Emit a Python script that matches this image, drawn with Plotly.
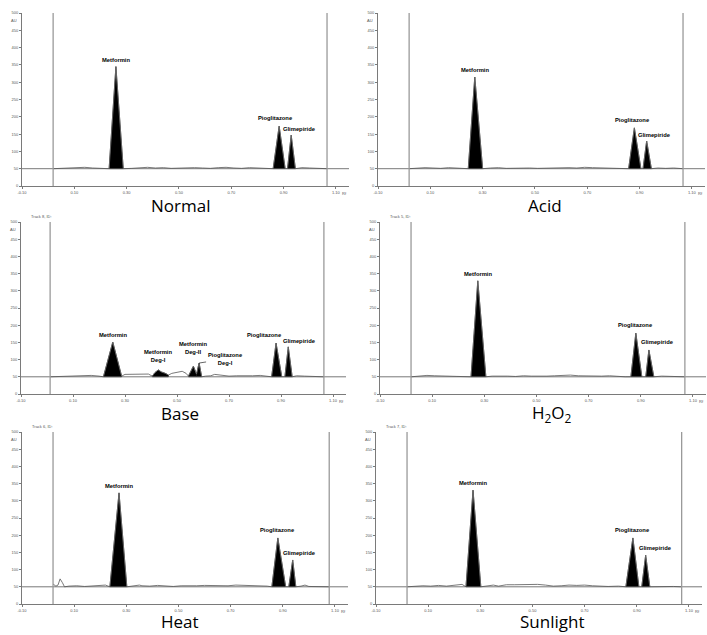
import plotly.graph_objects as go

W, H = 707, 635

# ---------------- data (Rf vs. absorbance units) ----------------
x_ticks = [-0.10, 0.10, 0.30, 0.50, 0.70, 0.90, 1.10]
x_tick_labels = ["-0.10", "0.10", "0.30", "0.50", "0.70", "0.90", "1.10"]
y_ticks = [0, 50, 100, 150, 200, 250, 300, 350, 400, 450, 500]
y_tick_labels = ["0", "50", "100", "150", "200", "250", "300", "350", "400", "450", "500"]
baseline_au = 50

normal_rf = [0.019, 0.05, 0.08, 0.11, 0.14, 0.17, 0.20, 0.233, 0.259, 0.287, 0.32, 0.35, 0.38, 0.41,
             0.44, 0.47, 0.50, 0.53, 0.56, 0.59, 0.62, 0.65, 0.68, 0.71, 0.74, 0.77, 0.80, 0.83,
             0.86, 0.883, 0.906, 0.915, 0.929, 0.945, 0.97, 1.00, 1.03, 1.066]
normal_au = [50, 51, 50, 53, 54, 52, 51, 50, 345, 50, 51, 53, 54, 52, 53, 51, 52, 54, 53, 52, 51,
             53, 54, 52, 51, 53, 52, 51, 50, 173, 50, 50, 147, 50, 53, 52, 51, 50]
normal_peaks = ["Metformin", "Pioglitazone", "Glimepiride"]
normal_peak_start = [0.233, 0.86, 0.915]
normal_peak_end = [0.287, 0.906, 0.945]
normal_track = [0.019, 1.066]

acid_rf = [0.019, 0.05, 0.08, 0.11, 0.14, 0.17, 0.20, 0.225, 0.245, 0.27, 0.30, 0.33, 0.36, 0.39,
           0.42, 0.45, 0.48, 0.51, 0.54, 0.57, 0.60, 0.63, 0.66, 0.69, 0.72, 0.75, 0.78, 0.81,
           0.84, 0.858, 0.88, 0.905, 0.913, 0.927, 0.945, 0.97, 1.00, 1.03, 1.066]
acid_au = [50, 52, 53, 52, 51, 53, 52, 51, 50, 315, 50, 52, 53, 51, 52, 53, 52, 51, 52, 53, 52,
           53, 52, 54, 53, 52, 53, 51, 50, 50, 168, 50, 50, 130, 50, 52, 51, 52, 50]
acid_peaks = ["Metformin", "Pioglitazone", "Glimepiride"]
acid_peak_start = [0.245, 0.858, 0.913]
acid_peak_end = [0.30, 0.905, 0.945]
acid_track = [0.019, 1.066]

base_rf = [0.012, 0.05, 0.08, 0.11, 0.14, 0.17, 0.20, 0.217, 0.253, 0.287, 0.30, 0.33, 0.36, 0.39,
           0.405, 0.415, 0.428, 0.44, 0.455, 0.467, 0.48, 0.50, 0.52, 0.535, 0.544, 0.563, 0.575,
           0.585, 0.595, 0.61, 0.63, 0.645, 0.67, 0.70, 0.73, 0.76, 0.79, 0.82, 0.845, 0.864,
           0.881, 0.903, 0.915, 0.928, 0.943, 0.96, 0.99, 1.02, 1.065]
base_au = [50, 51, 52, 53, 52, 54, 52, 50, 151, 52, 57, 58, 57, 58, 52, 62, 70, 64, 60, 55, 60,
           64, 66, 60, 52, 81, 58, 90, 50, 52, 53, 57, 54, 52, 53, 52, 53, 54, 52, 50, 148, 50,
           50, 137, 50, 53, 52, 51, 50]
base_peaks = ["Metformin", "Metformin<br>Deg-I", "Metformin<br>Deg-II", "Pioglitazone<br>Deg-I",
              "Pioglitazone", "Glimepiride"]
base_peak_start = [0.217, 0.405, 0.544, 0.575, 0.864, 0.915]
base_peak_end = [0.287, 0.467, 0.575, 0.595, 0.903, 0.943]
base_track = [0.012, 1.065]

h2o2_rf = [0.019, 0.05, 0.08, 0.11, 0.14, 0.17, 0.20, 0.23, 0.249, 0.275, 0.306, 0.33, 0.36, 0.39,
           0.42, 0.45, 0.48, 0.51, 0.54, 0.57, 0.60, 0.63, 0.66, 0.69, 0.72, 0.75, 0.78, 0.81,
           0.84, 0.862, 0.881, 0.904, 0.919, 0.931, 0.95, 0.98, 1.01, 1.04, 1.069]
h2o2_au = [50, 53, 54, 53, 52, 53, 52, 51, 50, 329, 50, 52, 53, 52, 51, 53, 52, 51, 52, 53, 54,
           55, 53, 52, 51, 52, 53, 51, 50, 50, 177, 50, 50, 128, 50, 52, 51, 51, 50]
h2o2_peaks = ["Metformin", "Pioglitazone", "Glimepiride"]
h2o2_peak_start = [0.249, 0.862, 0.919]
h2o2_peak_end = [0.306, 0.904, 0.95]
h2o2_track = [0.019, 1.069]

heat_rf = [0.019, 0.03, 0.038, 0.046, 0.055, 0.063, 0.08, 0.11, 0.14, 0.17, 0.20, 0.22, 0.237,
           0.272, 0.302, 0.32, 0.35, 0.36, 0.39, 0.42, 0.45, 0.48, 0.51, 0.54, 0.57, 0.60, 0.63,
           0.66, 0.69, 0.72, 0.75, 0.78, 0.81, 0.84, 0.858, 0.881, 0.911, 0.923, 0.938, 0.95,
           0.97, 0.985, 1.00, 1.04, 1.078]
heat_au = [58, 52, 55, 73, 62, 50, 52, 53, 51, 52, 54, 55, 50, 323, 50, 52, 55, 53, 52, 54, 52,
           51, 53, 52, 53, 54, 53, 54, 53, 55, 54, 55, 53, 52, 50, 192, 50, 50, 128, 50, 52, 55,
           51, 50, 50]
heat_peaks = ["Metformin", "Pioglitazone", "Glimepiride"]
heat_peak_start = [0.237, 0.858, 0.923]
heat_peak_end = [0.302, 0.911, 0.95]
heat_track = [0.019, 1.078]

sun_rf = [0.019, 0.05, 0.08, 0.11, 0.14, 0.17, 0.20, 0.23, 0.245, 0.272, 0.302, 0.32, 0.35, 0.37,
          0.40, 0.43, 0.46, 0.49, 0.52, 0.55, 0.58, 0.61, 0.64, 0.67, 0.70, 0.73, 0.76, 0.79,
          0.83, 0.858, 0.885, 0.908, 0.919, 0.934, 0.95, 0.98, 1.01, 1.04, 1.072]
sun_au = [50, 52, 53, 52, 54, 52, 54, 57, 50, 331, 50, 52, 55, 52, 56, 56, 57, 56, 57, 55, 52,
          53, 55, 54, 55, 53, 52, 51, 52, 50, 192, 50, 50, 142, 50, 51, 52, 51, 50]
sun_peaks = ["Metformin", "Pioglitazone", "Glimepiride"]
sun_peak_start = [0.245, 0.858, 0.919]
sun_peak_end = [0.302, 0.908, 0.95]
sun_track = [0.019, 1.072]

# ---------------- layout of panels (pixel boxes: x0, x1, ytop, ybottom) ----------------
panels = [
    dict(cap="Normal", rf=normal_rf, au=normal_au, names=normal_peaks, s=normal_peak_start,
         e=normal_peak_end, track=normal_track, box=(22, 349, 13, 186), title="",
         capxy=(180, 205), shifts={"Pioglitazone": (-4, 3), "Glimepiride": (8, 1)}),
    dict(cap="Acid", rf=acid_rf, au=acid_au, names=acid_peaks, s=acid_peak_start,
         e=acid_peak_end, track=acid_track, box=(378, 705, 13, 186), title="",
         capxy=(545, 205), shifts={"Pioglitazone": (-2, 3), "Glimepiride": (8, 1)}),
    dict(cap="Base", rf=base_rf, au=base_au, names=base_peaks, s=base_peak_start,
         e=base_peak_end, track=base_track, box=(21, 346, 222, 394), title="Track 8, ID:",
         capxy=(180, 413),
         shifts={"Metformin": (0, 2), "Metformin<br>Deg-I": (0, 5), "Metformin<br>Deg-II": (0, 9),
                 "Pioglitazone": (-12, 3), "Glimepiride": (11, 1)}),
    dict(cap="H<sub>2</sub>O<sub>2</sub>", rf=h2o2_rf, au=h2o2_au, names=h2o2_peaks, s=h2o2_peak_start,
         e=h2o2_peak_end, track=h2o2_track, box=(380, 706, 222, 394), title="Track 5, ID:",
         capxy=(552, 413), shifts={"Pioglitazone": (0, 3), "Glimepiride": (9, 3)}),
    dict(cap="Heat", rf=heat_rf, au=heat_au, names=heat_peaks, s=heat_peak_start,
         e=heat_peak_end, track=heat_track, box=(22, 348, 432, 604), title="Track 6, ID:",
         capxy=(180, 621), shifts={"Pioglitazone": (0, 3), "Glimepiride": (7, 2)}),
    dict(cap="Sunlight", rf=sun_rf, au=sun_au, names=sun_peaks, s=sun_peak_start,
         e=sun_peak_end, track=sun_track, box=(376, 702, 432, 604), title="Track 7, ID:",
         capxy=(552, 621), shifts={"Pioglitazone": (0, 3), "Glimepiride": (10, 2)}),
]

AXIS_GRAY = "#7a7a7a"
TRACE_GRAY = "#6a6a6a"
LABEL_FONT = dict(family="Liberation Sans, Arial", size=5.8, color="black")
TICK_FONT = dict(family="Liberation Sans, Arial", size=4, color="#555555")
X_RANGE = [-0.10, 1.15]

fig = go.Figure()
layout = dict(width=W, height=H, margin=dict(l=0, r=0, t=0, b=0, autoexpand=False),
              showlegend=False, plot_bgcolor="white", paper_bgcolor="white")
shapes, annotations = [], []

for i, p in enumerate(panels, start=1):
    sfx = "" if i == 1 else str(i)
    xa, ya = "x" + sfx, "y" + sfx
    x0, x1, yt, yb = p["box"]
    layout["xaxis" + sfx] = dict(domain=[x0 / W, x1 / W], range=X_RANGE, anchor=ya,
                                 tickvals=x_ticks, ticktext=x_tick_labels, tickfont=TICK_FONT,
                                 showline=True, linecolor=AXIS_GRAY, linewidth=1, ticks="outside",
                                 ticklen=2, tickcolor=AXIS_GRAY, showgrid=False, zeroline=False,
                                 automargin=False, fixedrange=True)
    layout["yaxis" + sfx] = dict(domain=[1 - yb / H, 1 - yt / H], range=[0, 500], anchor=xa,
                                 tickvals=y_ticks, ticktext=y_tick_labels, tickfont=TICK_FONT,
                                 showline=True, linecolor=AXIS_GRAY, linewidth=1, ticks="outside",
                                 ticklen=2, tickcolor=AXIS_GRAY, showgrid=False, zeroline=False,
                                 automargin=False, fixedrange=True)

    # baseline reference line and track start/front lines
    shapes.append(dict(type="line", xref=xa, yref=ya, x0=X_RANGE[0], x1=X_RANGE[1],
                       y0=baseline_au, y1=baseline_au, line=dict(color="#555555", width=0.8)))
    for t in p["track"]:
        shapes.append(dict(type="line", xref=xa, yref=ya, x0=t, x1=t, y0=0, y1=500,
                           line=dict(color="#9a9a9a", width=1.3)))

    # filled peaks
    for name, s, e in zip(p["names"], p["s"], p["e"]):
        seg = [(r, a) for r, a in zip(p["rf"], p["au"]) if s - 1e-9 <= r <= e + 1e-9]
        xs = [r for r, _ in seg] + [e, s]
        ys = [a for _, a in seg] + [baseline_au, baseline_au]
        fig.add_trace(go.Scatter(x=xs, y=ys, xaxis=xa, yaxis=ya, mode="lines", fill="toself",
                                 fillcolor="black", line=dict(color="black", width=0.6),
                                 hoverinfo="skip"))
        ar, aa = max(seg, key=lambda q: q[1])
        if name == "Pioglitazone<br>Deg-I":
            annotations.append(dict(x=ar, y=aa, xref=xa, yref=ya, text="<b>" + name + "</b>",
                                    font=LABEL_FONT, showarrow=True, arrowhead=0,
                                    arrowwidth=0.6, arrowcolor="black", ax=26, ay=-4,
                                    align="center"))
        else:
            dx, dy = p["shifts"].get(name, (0, 2))
            annotations.append(dict(x=ar, y=aa, xref=xa, yref=ya, text="<b>" + name + "</b>",
                                    font=LABEL_FONT, showarrow=False, yanchor="bottom",
                                    xanchor="center", xshift=dx, yshift=dy, align="center"))

    # densitogram trace
    fig.add_trace(go.Scatter(x=p["rf"], y=p["au"], xaxis=xa, yaxis=ya, mode="lines",
                             line=dict(color=TRACE_GRAY, width=0.9), hoverinfo="skip"))

    # axis unit labels and track title
    annotations.append(dict(x=0, y=478, xref=xa + " domain", yref=ya, text="AU",
                            font=TICK_FONT, showarrow=False, xanchor="right", xshift=-3))
    annotations.append(dict(x=1, y=0, xref=xa + " domain", yref=ya, text="Rf",
                            font=TICK_FONT, showarrow=False, xanchor="right", yanchor="top",
                            xshift=0, yshift=-3))
    if p["title"]:
        annotations.append(dict(x=0, y=500, xref=xa + " domain", yref=ya, text=p["title"],
                                font=TICK_FONT, showarrow=False, xanchor="left",
                                yanchor="bottom", xshift=8, yshift=1))

    # caption
    cx, cy = p["capxy"]
    annotations.append(dict(x=cx / W, y=1 - cy / H, xref="paper", yref="paper", text=p["cap"],
                            font=dict(family="Open Sans, Noto Sans", size=17, color="black"),
                            showarrow=False, xanchor="center", yanchor="middle"))

layout["shapes"] = shapes
layout["annotations"] = annotations
fig.update_layout(**layout)
fig.write_html("out.html", config={"displayModeBar": False},
               post_script="document.body.style.margin='0';document.body.style.overflow='hidden';")
